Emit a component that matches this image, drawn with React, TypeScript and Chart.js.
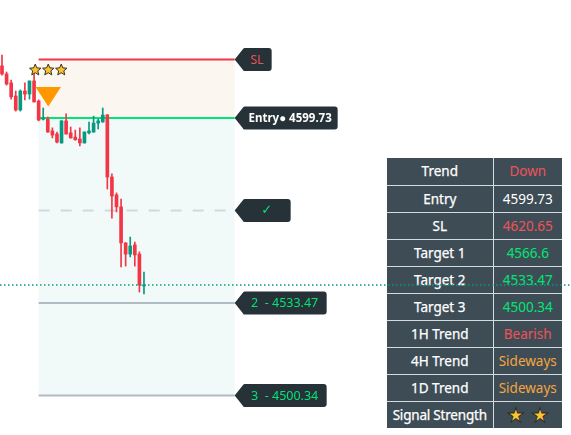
import React, { useEffect, useRef } from "react";
import { Chart, registerables } from "chart.js";

Chart.register(...registerables);

// ---------- DATA ----------
const OPEN = [4618.4, 4615.5, 4612.3, 4607.6, 4602.6, 4609.4, 4608.3, 4613.0, 4605.8, 4599.3, 4599.4, 4595.1, 4594.0, 4590.8, 4598.7, 4594.4, 4592.9, 4592.2, 4590.8, 4594.4, 4594.7, 4597.9, 4598.3, 4600.8, 4578.6, 4572.2, 4567.9, 4555.0, 4551.0, 4554.3, 4551.0, 4539.6];
const HIGH = [4622.3, 4616.2, 4613.3, 4609.4, 4609.8, 4612.3, 4613.0, 4617.6, 4606.2, 4603.3, 4600.1, 4596.2, 4594.7, 4598.8, 4601.2, 4596.5, 4595.4, 4596.2, 4594.8, 4598.3, 4600.4, 4599.4, 4603.3, 4601.0, 4579.7, 4572.9, 4570.7, 4555.1, 4557.1, 4555.3, 4551.8, 4544.6];
const LOW = [4615.1, 4611.5, 4606.5, 4602.2, 4602.2, 4606.2, 4606.5, 4605.4, 4598.7, 4599.0, 4594.6, 4592.6, 4590.8, 4590.7, 4593.9, 4592.5, 4591.8, 4589.7, 4590.7, 4594.0, 4594.6, 4595.8, 4598.2, 4574.3, 4563.9, 4566.1, 4546.4, 4546.7, 4550.0, 4546.7, 4537.4, 4536.7];
const CLOSE = [4615.5, 4611.9, 4607.3, 4602.6, 4609.4, 4608.3, 4613.0, 4605.5, 4599.0, 4599.5, 4594.7, 4593.6, 4591.1, 4598.7, 4594.0, 4592.6, 4591.9, 4590.8, 4594.7, 4595.1, 4597.9, 4598.7, 4600.8, 4578.6, 4571.8, 4567.9, 4555.0, 4551.0, 4553.9, 4550.7, 4539.9, 4539.9];

const SL_PRICE = 4620.65;
const ENTRY_PRICE = 4599.73;
const TARGET_PRICES = [4566.6, 4533.47, 4500.34];
const LAST_PRICE = 4539.9;
const ENTRY_BAR = 8;
const ZONE_END_BAR = 50.8;
const SIGNAL_BAR = 10.1;
const SIGNAL_STAR_COUNT = 3;

const TAG_TEXTS = ["SL", "Entry\u25CF 4599.73", "\u2713", "2  - 4533.47", "3  - 4500.34"];
const TAG_PRICES = [SL_PRICE, ENTRY_PRICE, TARGET_PRICES[0], TARGET_PRICES[1], TARGET_PRICES[2]];

const TABLE_LABELS = ["Trend", "Entry", "SL", "Target 1", "Target 2", "Target 3", "1H Trend", "4H Trend", "1D Trend", "Signal Strength"];
const TABLE_VALUES = ["Down", "4599.73", "4620.65", "4566.6", "4533.47", "4500.34", "Bearish", "Sideways", "Sideways", "\u2605 \u2605"];

// ---------- STYLE ----------
const RED = "#f23645";
const TEAL = "#089981";
const LIME = "#00e676";
const ORANGE = "#f7a540";
const TXT_RED = "#f0525a";
const TAG_BG = "#263238";

const X_MIN = -0.4367;
const X_MAX = 124.24;
const Y_MAX = 4641.98;
const Y_MIN = 4486.22;

const TABLE_VALUE_COLORS = ["#f0525a", "#ffffff", "#f0525a", LIME, LIME, LIME, "#f0525a", ORANGE, ORANGE, "#fbc531"];

const TAG_STYLES = [
  { w: 29, color: TXT_RED, font: "12.5px 'Noto Sans', sans-serif" },
  { w: 95, color: "#ffffff", font: "bold 11.5px 'Noto Sans', sans-serif" },
  { w: 48, color: LIME, font: "13px 'DejaVu Sans', sans-serif" },
  { w: 84, color: LIME, font: "12.5px 'Noto Sans', sans-serif" },
  { w: 84, color: LIME, font: "12.5px 'Noto Sans', sans-serif" },
];

function drawTag(ctx: CanvasRenderingContext2D, xTip: number, y: number, w: number, h: number) {
  const arrow = 8;
  const r = 3;
  const x0 = xTip + arrow;
  const x1 = x0 + w;
  const top = y - h / 2;
  const bot = y + h / 2;
  ctx.beginPath();
  ctx.moveTo(xTip, y);
  ctx.lineTo(x0, top + 1.5);
  ctx.quadraticCurveTo(x0 + 0.5, top, x0 + 2, top);
  ctx.lineTo(x1 - r, top);
  ctx.quadraticCurveTo(x1, top, x1, top + r);
  ctx.lineTo(x1, bot - r);
  ctx.quadraticCurveTo(x1, bot, x1 - r, bot);
  ctx.lineTo(x0 + 2, bot);
  ctx.quadraticCurveTo(x0 + 0.5, bot, x0, bot - 1.5);
  ctx.closePath();
  ctx.fillStyle = TAG_BG;
  ctx.fill();
}

function drawStar(ctx: CanvasRenderingContext2D, cx: number, cy: number, R: number) {
  const r = R * 0.45;
  ctx.beginPath();
  for (let k = 0; k < 10; k++) {
    const ang = -Math.PI / 2 + (k * Math.PI) / 5;
    const rad = k % 2 === 0 ? R : r;
    const px = cx + Math.cos(ang) * rad;
    const py = cy + Math.sin(ang) * rad;
    if (k === 0) ctx.moveTo(px, py);
    else ctx.lineTo(px, py);
  }
  ctx.closePath();
  ctx.fillStyle = "#f9c22e";
  ctx.fill();
  ctx.lineWidth = 1;
  ctx.strokeStyle = "#3b3222";
  ctx.stroke();
}

const overlayPlugin = {
  id: "overlay",
  beforeDatasetsDraw(chart: any) {
    const { ctx, scales } = chart;
    const x = scales.x;
    const y = scales.y;
    const xl = x.getPixelForValue(ENTRY_BAR);
    const xr = x.getPixelForValue(ZONE_END_BAR);
    const ySL = y.getPixelForValue(SL_PRICE);
    const yE = y.getPixelForValue(ENTRY_PRICE);
    const yT = y.getPixelForValue(TARGET_PRICES[2]);
    ctx.save();
    ctx.fillStyle = "#fbf7f0";
    ctx.fillRect(xl, ySL, xr - xl, yE - ySL);
    ctx.fillStyle = "#f2f9f9";
    ctx.fillRect(xl, yE, xr - xl, yT - yE);
    ctx.restore();
  },
  afterDatasetsDraw(chart: any) {
    const { ctx, scales } = chart;
    const x = scales.x;
    const y = scales.y;
    ctx.save();
    const xTip = x.getPixelForValue(ZONE_END_BAR);
    TAG_TEXTS.forEach((t, i) => {
      const st = TAG_STYLES[i];
      const yy = y.getPixelForValue(TAG_PRICES[i]);
      drawTag(ctx, xTip, yy, st.w, 23);
      ctx.font = st.font;
      ctx.fillStyle = st.color;
      ctx.textAlign = "center";
      ctx.textBaseline = "middle";
      ctx.fillText(t, xTip + 8 + st.w / 2, yy + 0.5);
    });
    const cx = x.getPixelForValue(SIGNAL_BAR);
    const yTop = y.getPixelForValue(4610.8);
    ctx.beginPath();
    ctx.moveTo(cx - 12.7, yTop);
    ctx.lineTo(cx + 12.7, yTop);
    ctx.lineTo(cx, yTop + 19.5);
    ctx.closePath();
    ctx.fillStyle = "#ff9800";
    ctx.fill();
    const sy = y.getPixelForValue(4616.9);
    for (let k = 0; k < SIGNAL_STAR_COUNT; k++) {
      drawStar(ctx, cx - 13 + k * 13, sy, 6);
    }
    ctx.restore();
  },
};

export default function App() {
  const ref = useRef<HTMLCanvasElement | null>(null);

  useEffect(() => {
    document.body.style.margin = "0";
    if (!ref.current) return;
    const idx = OPEN.map((_, i) => i);
    const colors = idx.map((i) => (CLOSE[i] >= OPEN[i] ? TEAL : RED));
    const wick = idx.map((i) => ({ x: i, y: [LOW[i], HIGH[i]] }));
    const body = idx.map((i) => ({
      x: i,
      y: [Math.min(OPEN[i], CLOSE[i]), Math.max(OPEN[i], CLOSE[i])],
    }));
    const seg = (a: number, b: number, p: number) => [
      { x: a, y: p },
      { x: b, y: p },
    ];
    const lineDs = (data: any, color: string, width: number, dash: number[], order: number) => ({
      type: "line",
      data,
      borderColor: color,
      borderWidth: width,
      borderDash: dash,
      pointRadius: 0,
      fill: false,
      tension: 0,
      order,
    });

    const chart = new Chart(ref.current, {
      type: "bar",
      data: {
        datasets: [
          lineDs(seg(ENTRY_BAR, ZONE_END_BAR, SL_PRICE), RED, 2, [], 3),
          lineDs(seg(ENTRY_BAR, ZONE_END_BAR, ENTRY_PRICE), LIME, 2, [], 3),
          lineDs(seg(ENTRY_BAR, ZONE_END_BAR, TARGET_PRICES[0]), "#d1d9dd", 2, [11, 11], 3),
          lineDs(seg(ENTRY_BAR, ZONE_END_BAR, TARGET_PRICES[1]), "#b0bcc3", 2, [], 3),
          lineDs(seg(ENTRY_BAR, ZONE_END_BAR, TARGET_PRICES[2]), "#b0bcc3", 2, [], 3),
          {
            type: "bar",
            data: wick,
            backgroundColor: colors,
            barThickness: 1,
            grouped: false,
            order: 1,
          },
          {
            type: "bar",
            data: body,
            backgroundColor: colors,
            barThickness: 3,
            grouped: false,
            minBarLength: 1,
            order: 0,
          },
          lineDs(seg(X_MIN, X_MAX, LAST_PRICE), TEAL, 1.5, [1.5, 2.5], -1),
        ] as any,
      },
      options: {
        animation: false,
        responsive: false,
        devicePixelRatio: 1,
        layout: { padding: 0 },
        plugins: { legend: { display: false }, tooltip: { enabled: false } },
        scales: {
          x: { type: "linear", min: X_MIN, max: X_MAX, display: false, offset: false } as any,
          y: { type: "linear", min: Y_MIN, max: Y_MAX, display: false },
        },
      } as any,
      plugins: [overlayPlugin],
    });
    return () => chart.destroy();
  }, []);

  const border = "1px solid #d3dbdf";
  return (
    <div style={{ position: "fixed", left: 0, top: 0, width: 571, height: 435, background: "#ffffff" }}>
      <table
        style={{
          position: "absolute",
          left: 387,
          top: 158,
          width: 175,
          borderCollapse: "collapse",
          tableLayout: "fixed",
          fontFamily: "'Noto Sans', sans-serif",
          fontSize: 13.5,
          background: "#3e4d55",
          zIndex: 0,
        }}
      >
        <colgroup>
          <col style={{ width: 106 }} />
          <col style={{ width: 69 }} />
        </colgroup>
        <tbody>
          {TABLE_LABELS.map((label, i) => (
            <tr key={label} style={{ height: 27 }}>
              <td
                style={{
                  padding: 0,
                  textAlign: "center",
                  color: "#ffffff",
                  borderTop: i ? border : "none",
                  borderRight: border,
                  whiteSpace: "nowrap",
                  WebkitTextStroke: "0.25px #ffffff",
                  letterSpacing: i === TABLE_LABELS.length - 1 ? "-0.2px" : "0px",
                }}
              >
                {label}
              </td>
              <td
                style={{
                  padding: 0,
                  textAlign: "center",
                  color: TABLE_VALUE_COLORS[i],
                  borderTop: i ? border : "none",
                  whiteSpace: "nowrap",
                  ...(i === TABLE_LABELS.length - 1
                    ? { fontFamily: "'DejaVu Sans', sans-serif", fontSize: 20, lineHeight: "20px", WebkitTextStroke: "1px #2b2b2b" }
                    : {}),
                }}
              >
                {TABLE_VALUES[i]}
              </td>
            </tr>
          ))}
        </tbody>
      </table>
      <canvas
        ref={ref}
        width={571}
        height={435}
        style={{ position: "absolute", left: 0, top: 0, width: 571, height: 435, zIndex: 1 }}
      />
    </div>
  );
}
